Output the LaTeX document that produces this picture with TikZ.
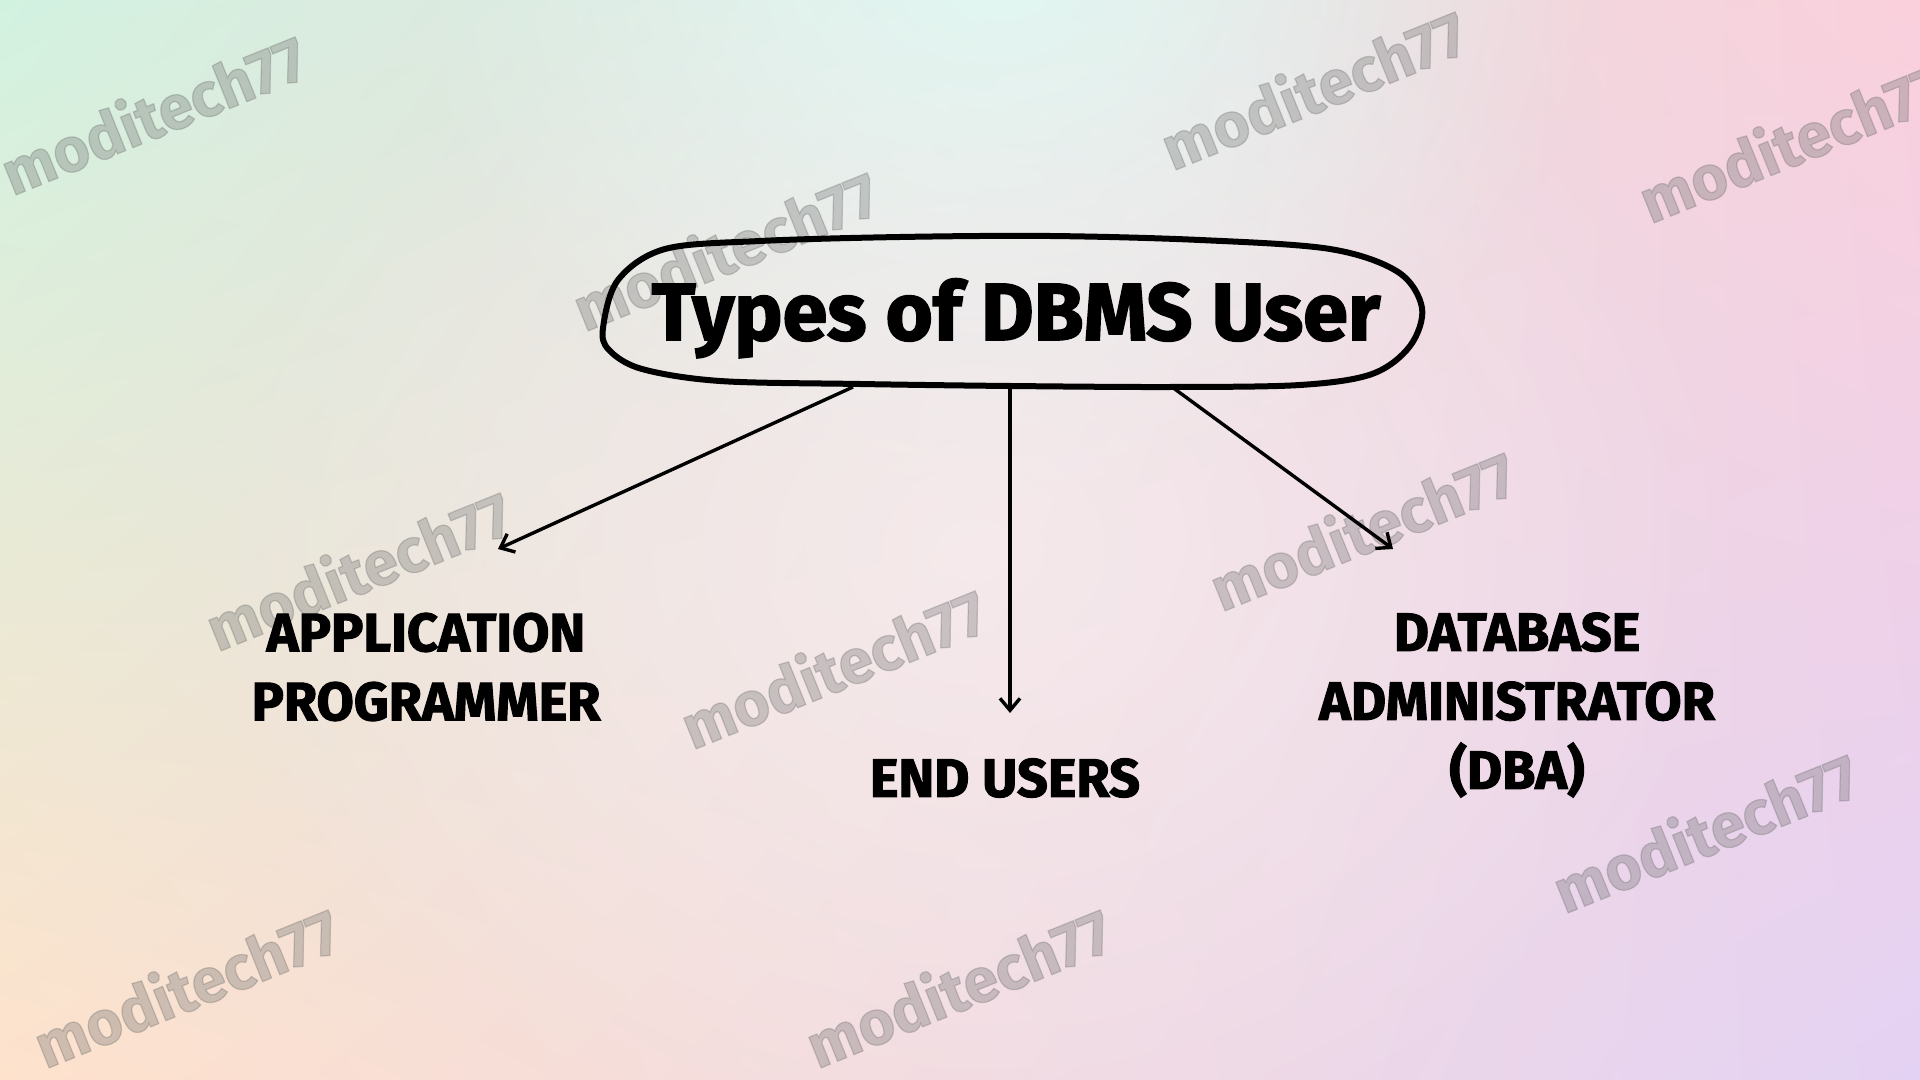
\documentclass[tikz,border=0pt]{standalone}
\usepackage{fontspec}
\setmainfont{Fira Sans}[BoldFeatures={FakeBold=2}]
\usetikzlibrary{arrows.meta,fadings,shadings}
\definecolor{BgMint}{RGB}{210,242,224}
\definecolor{BgPink}{RGB}{250,208,220}
\definecolor{BgPeach}{RGB}{254,226,204}
\definecolor{BgLilac}{RGB}{228,210,244}
\definecolor{BgCyan}{RGB}{222,252,246}
\definecolor{BgGlow}{RGB}{252,242,244}
\definecolor{WmGray}{RGB}{110,110,110}
\tikzfading[name=softglow,inner color=transparent!0,outer color=transparent!100]

\begin{document}
\begin{tikzpicture}[x=0.5pt,y=-0.5pt,
    >={Straight Barb[length=6pt,width=10pt]},
    link/.style={->,line width=1.7pt,draw=black},
    usertype/.style={align=center,font=\fontsize{27}{34.5}\selectfont\bfseries},
    wmark/.style={rotate=22,text=WmGray,text opacity=0.32,
      font=\fontsize{31}{31}\selectfont\bfseries}
  ]
  % background
  \useasboundingbox (0,0) rectangle (1920,1080);
  \shade[upper left=BgMint,upper right=BgPink,lower left=BgPeach,
    lower right=BgLilac] (0,0) rectangle (1920,1080);
  \fill[BgCyan,opacity=0.9,path fading=softglow]
    (400,-600) rectangle (1600,500);
  \fill[BgGlow,opacity=0.6,path fading=softglow]
    (200,-100) rectangle (1750,1200);

  % watermarks
  \node[wmark] (wm1) at (153,113) {moditech77};
  \node[wmark] (wm2) at (1313,88) {moditech77};
  \node[wmark] (wm3) at (1791,141) {moditech77};
  \node[wmark] (wm4) at (725,249) {moditech77};
  \node[wmark] (wm5) at (358,569) {moditech77};
  \node[wmark] (wm6) at (1362,529) {moditech77};
  \node[wmark] (wm7) at (833,667) {moditech77};
  \node[wmark] (wm8) at (1705,831) {moditech77};
  \node[wmark] (wm9) at (186,986) {moditech77};
  \node[wmark] (wm10) at (958,986) {moditech77};

  % title with hand-drawn outline
  \draw[line width=3pt,line join=round] plot[smooth cycle,tension=0.55]
    coordinates {(603,328) (618,280) (665,249) (760,241) (900,237)
      (1050,236) (1200,240) (1330,249) (1398,272) (1422,308) (1410,346)
      (1372,374) (1300,385) (1170,387) (1010,386) (860,384) (720,381)
      (642,369) (609,350)};
  \node[font=\fontsize{40.5}{48}\selectfont\bfseries,anchor=base]
    (title) at (1016,340) {Types of DBMS User};

  % user types
  \node[usertype] (appprog) at (426,667) {APPLICATION\\PROGRAMMER};
  \node[usertype] (endusers) at (1005,778) {END USERS};
  \node[usertype] (dba) at (1517,705) {DATABASE\\ADMINISTRATOR\\(DBA)};

  \coordinate (outL) at (853,387);
  \coordinate (outM) at (1010,387);
  \coordinate (outR) at (1172,387);
  \coordinate (tipL) at (498,549);
  \coordinate (tipM) at (1010,713);
  \coordinate (tipR) at (1393,549);
  \draw[link] (outL) -- (tipL);
  \draw[link] (outM) -- (tipM);
  \draw[link] (outR) -- (tipR);
\end{tikzpicture}
\end{document}
